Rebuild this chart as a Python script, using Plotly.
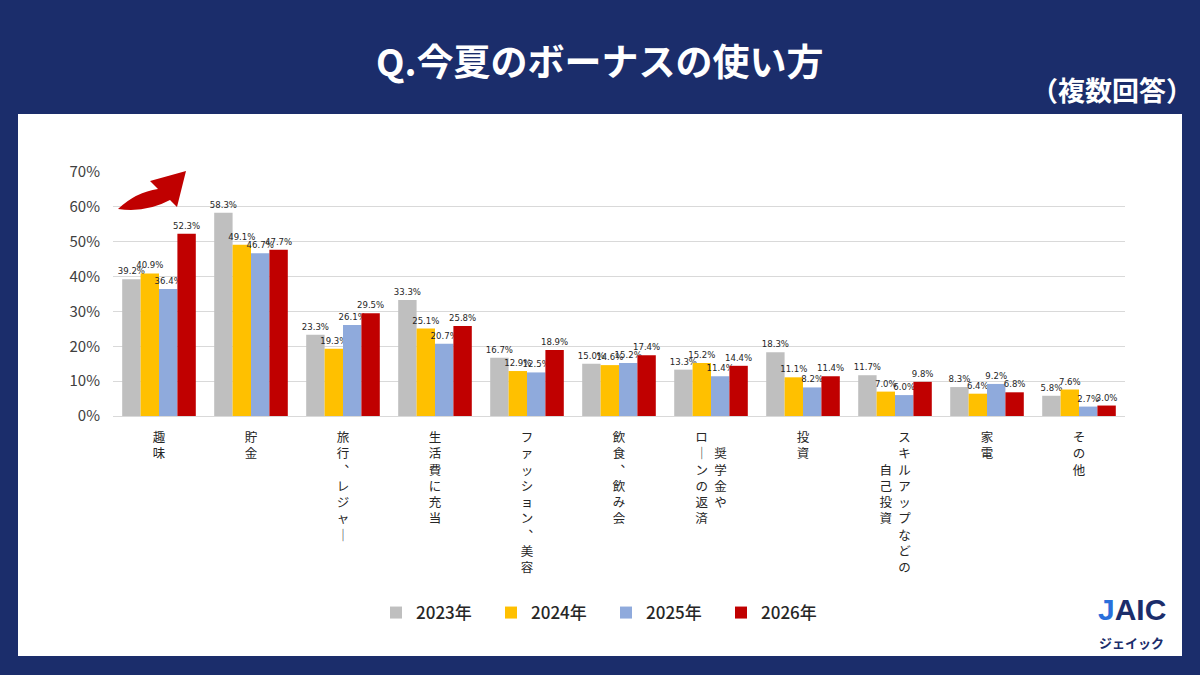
import plotly.graph_objects as go

# ---- data ----
categories = ["趣味", "貯金", "旅行、レジャー", "生活費に充当", "ファッション、美容", "飲食、飲み会",
              "奨学金や\nローンの返済", "投資", "スキルアップなどの\n自己投資", "家電", "その他"]
years = ["2023年", "2024年", "2025年", "2026年"]
v2023 = [39.2, 58.3, 23.3, 33.3, 16.7, 15.0, 13.3, 18.3, 11.7, 8.3, 5.8]
v2024 = [40.9, 49.1, 19.3, 25.1, 12.9, 14.6, 15.2, 11.1, 7.0, 6.4, 7.6]
v2025 = [36.4, 46.7, 26.1, 20.7, 12.5, 15.2, 11.4, 8.2, 6.0, 9.2, 2.7]
v2026 = [52.3, 47.7, 29.5, 25.8, 18.9, 17.4, 14.4, 11.4, 9.8, 6.8, 3.0]
series = [v2023, v2024, v2025, v2026]
colors = ["#bfbfbf", "#ffc000", "#8faadc", "#c00000"]
y_ticks = [0, 10, 20, 30, 40, 50, 60, 70]

W, H = 1200, 675
NAVY = "#1b2d6b"
JP = "Noto Sans CJK JP, Noto Sans, sans-serif"


def px(x):
    return x / W


def py(y):
    return 1 - y / H


VMAP = {"ー": "｜", "、": "︑"}
INVIS = '<span style="color:rgba(0,0,0,0)">口</span>'


def vchars(s):
    return [VMAP.get(c, c) for c in s]


def vertical(label):
    cols = label.split("\n")
    if len(cols) == 1:
        return "<br>".join(vchars(cols[0]))
    right, left = vchars(cols[0]), vchars(cols[1])
    n = max(len(right), len(left))
    ro = (n - len(right)) // 2
    lo = (n - len(left)) // 2
    lines = []
    for i in range(n):
        lc = left[i - lo] if 0 <= i - lo < len(left) else INVIS
        rc = right[i - ro] if 0 <= i - ro < len(right) else INVIS
        lines.append(lc + "\u2002" + rc)
    return "<br>".join(lines)


ticktext = [vertical(c) for c in categories]

fig = go.Figure()
for name, vals, col in zip(years, series, colors):
    fig.add_trace(go.Bar(
        name=name, x=categories, y=vals, marker=dict(color=col, line=dict(width=0)),
        text=[f"{v:.1f}%" for v in vals], textposition="outside",
        constraintext="none", cliponaxis=False,
        textfont=dict(size=9.5, color="#262626",
                      family="DejaVu Sans Condensed, Liberation Sans Narrow, Liberation Sans, sans-serif"),
    ))

shapes = [
    dict(type="rect", xref="paper", yref="paper", x0=px(18), x1=px(1182), y0=py(656), y1=py(114),
         fillcolor="white", line=dict(width=0), layer="below"),
]
# red decorative arrow
pts = "M{},{} Q{},{} {},{} L{},{} L{},{} L{},{} L{},{} Q{},{} {},{} Z".format(
    px(118), py(209), px(136), py(192), px(158), py(189), px(150), py(181), px(186), py(171),
    px(177), py(207), px(170), py(200), px(146), py(213), px(118), py(209))
shapes.append(dict(type="path", xref="paper", yref="paper", path=pts, fillcolor="#c00000",
                   line=dict(width=0), layer="above"))

annotations = [
    dict(text="<b>Q.今夏のボーナスの使い方</b>", x=0.5, y=py(60), xref="paper", yref="paper",
         showarrow=False, font=dict(size=37, color="white", family=JP), xanchor="center", yanchor="middle"),
    dict(text="<b>（複数回答）</b>", x=px(1195), y=py(90), xref="paper", yref="paper",
         showarrow=False, font=dict(size=27, color="white", family=JP), xanchor="right", yanchor="middle"),
    dict(text='<b><span style="color:#2a6fdb">J</span>AIC</b>', x=px(1132), y=py(609), xref="paper",
         yref="paper", showarrow=False, font=dict(size=30, color="#1b2d6b", family="Liberation Sans, sans-serif"),
         xanchor="center", yanchor="middle"),
    dict(text="<b>ジェイック</b>", x=px(1131), y=py(642), xref="paper", yref="paper", showarrow=False,
         font=dict(size=13, color="#1b2d6b", family=JP), xanchor="center", yanchor="middle"),
]

fig.update_layout(
    width=W, height=H,
    margin=dict(l=0, r=0, t=0, b=0),
    paper_bgcolor=NAVY, plot_bgcolor="rgba(0,0,0,0)",
    barmode="group", bargap=0.2, bargroupgap=0,
    font=dict(family=JP, color="#262626"),
    shapes=shapes, annotations=annotations,
    showlegend=True,
    legend=dict(orientation="h", x=0.505, y=py(613), xanchor="center", yanchor="middle",
                font=dict(size=17, color="#262626", family=JP, weight=500),
                entrywidth=70, entrywidthmode="pixels", bgcolor="rgba(0,0,0,0)"),
    xaxis=dict(domain=[px(113), px(1125)], type="category", tickmode="array",
               tickvals=categories, ticktext=ticktext, tickangle=0,
               tickfont=dict(size=12.5, color="#262626", family=JP),
               showgrid=False, showline=True, linecolor="#d9d9d9", linewidth=1,
               ticks="", ticklabelstandoff=10, automargin=False, fixedrange=True),
    yaxis=dict(domain=[py(416), py(172)], range=[0, 70], tickmode="array", tickvals=y_ticks,
               ticktext=[f"{t}%" for t in y_ticks],
               tickfont=dict(size=15, color="#404040", family=JP),
               showgrid=True, gridcolor="#d9d9d9", gridwidth=1, zeroline=False, showline=False,
               ticks="", ticklabelstandoff=12, automargin=False, fixedrange=True),
)

fig.write_html("out.html")
